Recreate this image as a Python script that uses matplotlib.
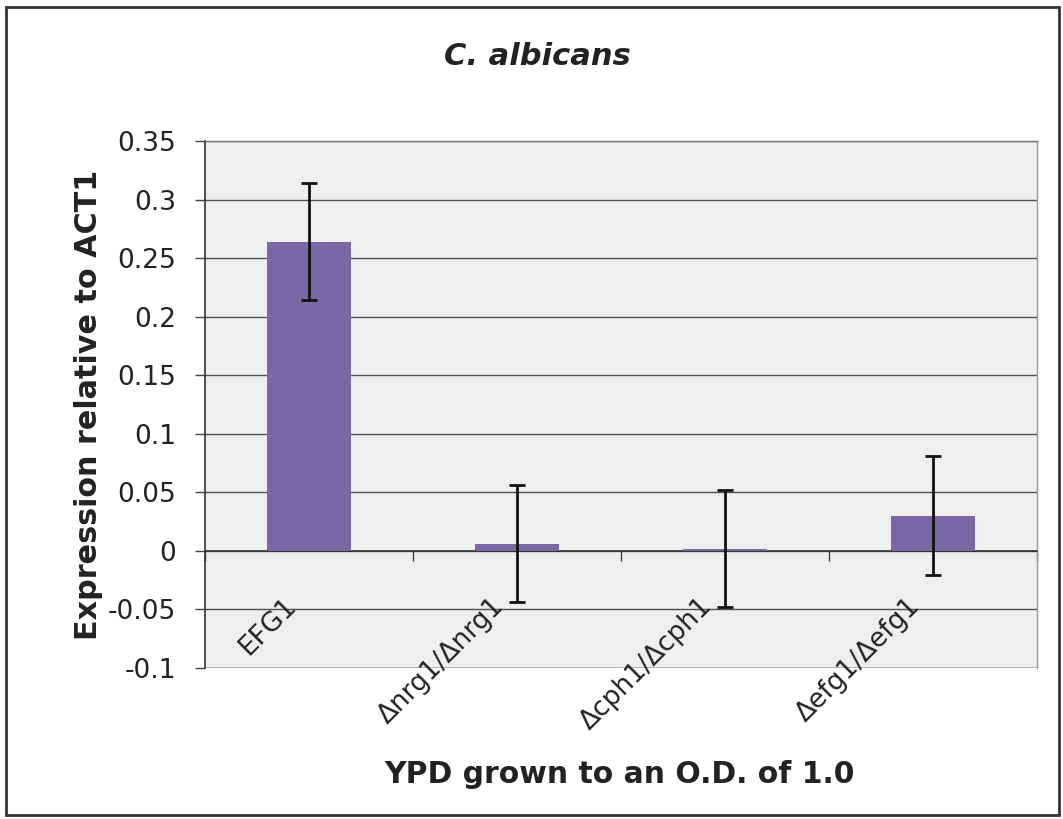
import numpy as np
import matplotlib
matplotlib.use("Agg")
import matplotlib.pyplot as plt
from matplotlib.patches import Rectangle

categories = ["EFG1", "\u0394nrg1/\u0394nrg1", "\u0394cph1/\u0394cph1", "\u0394efg1/\u0394efg1"]
values = [0.264, 0.006, 0.002, 0.030]
errors = [0.050, 0.050, 0.050, 0.051]
yticks = [-0.1, -0.05, 0, 0.05, 0.1, 0.15, 0.2, 0.25, 0.3, 0.35]
ytick_labels = ["-0.1", "-0.05", "0", "0.05", "0.1", "0.15", "0.2", "0.25", "0.3", "0.35"]

plt.rcParams['font.family'] = ['DejaVu Sans']

W, H = 1063, 819
fig = plt.figure(figsize=(W / 100, H / 100), dpi=100)
fig.patch.set_facecolor("white")
ax = fig.add_axes([205/W, 1 - 668/H, (1037-205)/W, (668-141)/H])
ax.set_facecolor("#efefef")

x = np.arange(len(categories))
ax.bar(x, values, width=0.4, color="#7b67a6", zorder=3)
ax.errorbar(x, values, yerr=errors, fmt="none", ecolor="#111111",
            elinewidth=2, capsize=6, capthick=2, zorder=4)

ax.set_xlim(-0.5, len(categories) - 0.5)
ax.set_ylim(-0.1, 0.35)
ax.set_yticks(yticks)
ax.set_yticklabels(ytick_labels, fontsize=19, color="#222222")
ax.yaxis.grid(True, color="#505050", linewidth=1.0, zorder=1)
ax.set_axisbelow(True)
ax.tick_params(axis="y", direction="out", length=7, width=1, color="#444444", pad=14)

ax.spines["bottom"].set_position(("data", 0))
ax.spines["bottom"].set_color("#333333")
ax.spines["bottom"].set_linewidth(1.2)
ax.spines["left"].set_color("#333333")
ax.spines["left"].set_linewidth(1.2)
ax.spines["top"].set_color("#777777")
ax.spines["top"].set_linewidth(1.0)
ax.spines["right"].set_color("#999999")
ax.spines["right"].set_linewidth(1.0)

ax.set_xticks(np.arange(-0.5, len(categories), 1.0))
ax.set_xticklabels([])
ax.tick_params(axis="x", direction="out", length=7, width=1, color="#444444")

# bottom gridline at -0.1
ax.axhline(-0.1, color="#505050", linewidth=1.0, zorder=1)

for i, lab in enumerate(categories):
    ax.annotate(lab, xy=(x[i], 0), xytext=(-26, -42), textcoords="offset pixels",
                rotation=45, ha="right", va="top", rotation_mode="anchor",
                fontsize=19, color="#222222", annotation_clip=False)

fig.text(537/W, 1 - 65/H, "C. albicans", fontsize=22, fontweight="bold",
         fontstyle="italic", ha="center", va="baseline", color="#222222")
fig.text(619/W, 1 - 783/H, "YPD grown to an O.D. of 1.0", fontsize=21.5,
         fontweight="bold", ha="center", va="baseline", color="#222222")
fig.text(97/W, 1 - 405/H, "Expression relative to ACT1", fontsize=21.8,
         fontweight="bold", ha="center", va="baseline", rotation=90,
         rotation_mode="anchor", color="#222222")

fig.patches.append(Rectangle((6/W, 1 - 815/H), (1059-6)/W, (815-7)/H,
                             transform=fig.transFigure, fill=False,
                             edgecolor="#333333", linewidth=2))

fig.savefig("out.png", dpi=100)
